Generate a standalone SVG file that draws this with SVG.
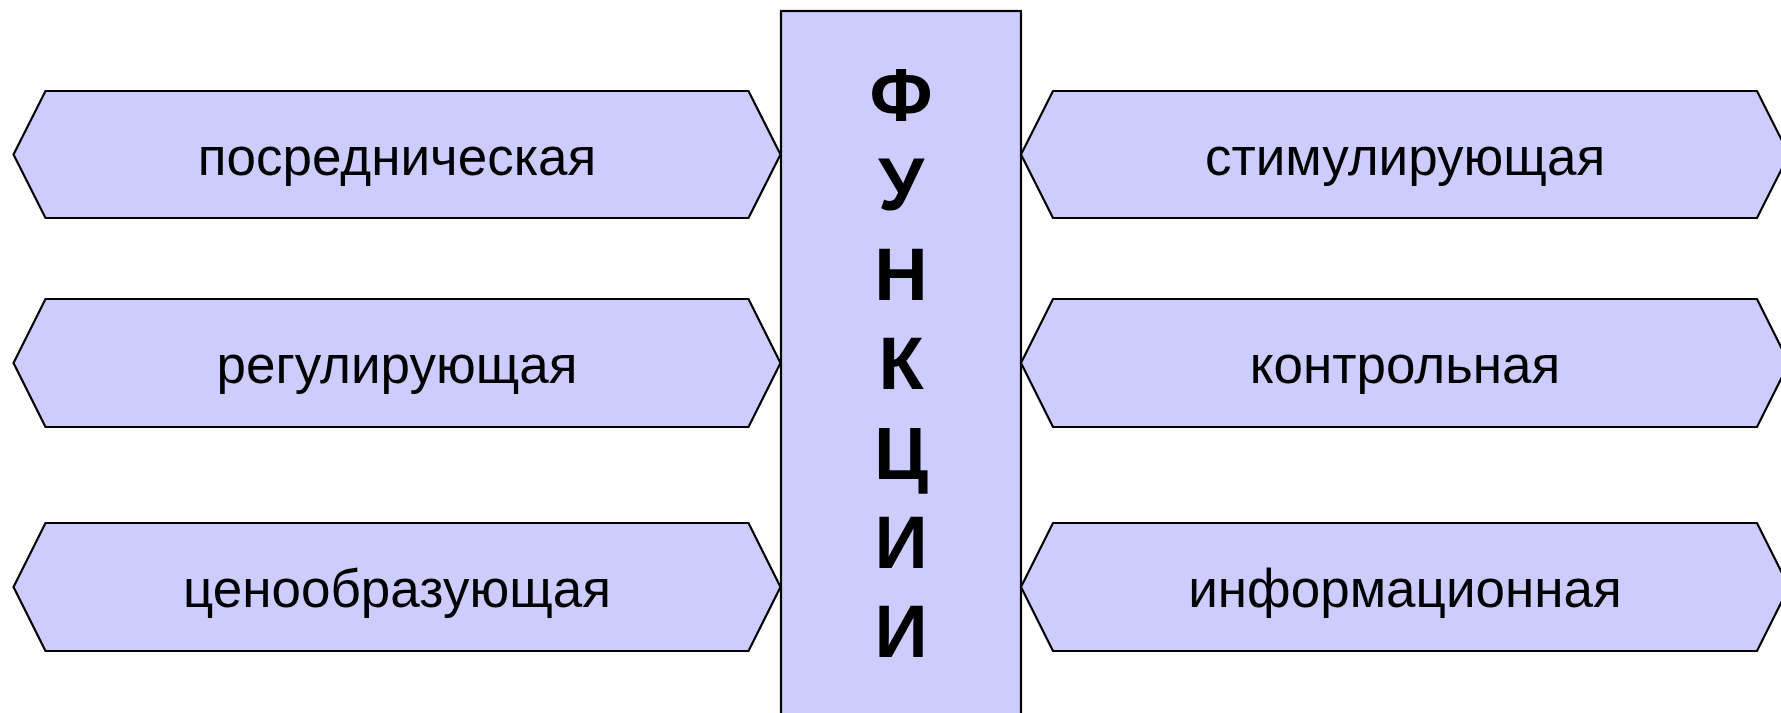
<svg xmlns="http://www.w3.org/2000/svg" width="1781" height="713" viewBox="0 0 1781 713">
<style>
.box{fill:#CCCCFF;stroke:#000;stroke-width:2.2;stroke-linejoin:miter}
.lbl{font-family:"Liberation Sans",Arial,sans-serif;font-size:53px;fill:#000;text-anchor:middle}
.ttl{font-family:"Liberation Sans",Arial,sans-serif;font-size:74px;font-weight:bold;fill:#000;text-anchor:middle}
</style>
<rect x="0" y="0" width="1781" height="713" fill="#fff"/>
<g id="connectors"></g>
<g id="center">
<rect class="box" x="781" y="11" width="240" height="720"/>
<text class="ttl" x="901" y="121">Ф</text>
<text class="ttl" x="901" y="210.4">У</text>
<text class="ttl" x="901" y="299.8">Н</text>
<text class="ttl" x="901" y="389.2">К</text>
<text class="ttl" x="901" y="478.6">Ц</text>
<text class="ttl" x="901" y="568">И</text>
<text class="ttl" x="901" y="657.4">И</text>
</g>
<g id="n-posred">
<polygon class="box" points="45.5,91 748.5,91 780.5,154.5 748.5,218 45.5,218 13.5,154.5"/>
<text class="lbl" x="397" y="174.5">посредническая</text>
</g>
<g id="n-regul">
<polygon class="box" points="45.5,299 748.5,299 780.5,363 748.5,427 45.5,427 13.5,363"/>
<text class="lbl" x="397" y="383">регулирующая</text>
</g>
<g id="n-cenoobr">
<polygon class="box" points="45.5,523 748.5,523 780.5,587 748.5,651 45.5,651 13.5,587"/>
<text class="lbl" x="397" y="607">ценообразующая</text>
</g>
<g id="n-stimul">
<polygon class="box" points="1053,91 1757,91 1789,154.5 1757,218 1053,218 1021,154.5"/>
<text class="lbl" x="1405" y="174.5">стимулирующая</text>
</g>
<g id="n-kontrol">
<polygon class="box" points="1053,299 1757,299 1789,363 1757,427 1053,427 1021,363"/>
<text class="lbl" x="1405" y="383">контрольная</text>
</g>
<g id="n-inform">
<polygon class="box" points="1053,523 1757,523 1789,587 1757,651 1053,651 1021,587"/>
<text class="lbl" x="1405" y="607">информационная</text>
</g>
</svg>
